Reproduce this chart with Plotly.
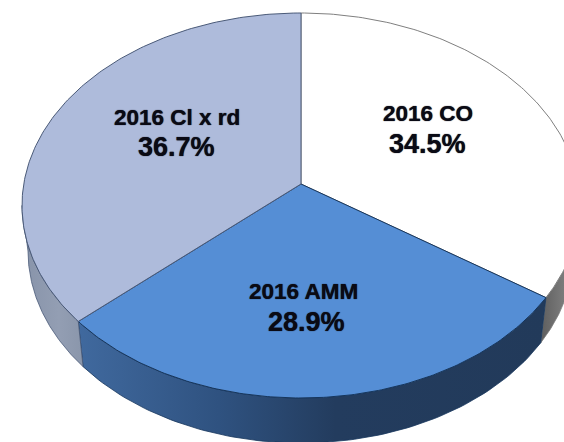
import numpy as np
import plotly.graph_objects as go

# Data
categories = ["2016 CO", "2016 AMM", "2016 Cl x rd"]
shares = [34.5, 28.9, 36.7]

# Styles
top_colors = ["#FFFFFF", "#558ED5", "#AEBBDB"]
edge_colors = ["#7F7F7F", "#16365D", "#4A5A78"]
wall_scales = [
    [[0, "#5E5E5E"], [0.5, "#777777"], [1, "#8C8C8C"]],
    [[0, "#40699E"], [0.3, "#2F5280"], [0.55, "#233C5E"], [1, "#223A5A"]],
    [[0, "#8793A9"], [0.6, "#939EB3"], [1, "#8A96AB"]],
]
# Canvas in pixels, ellipse geometry of the tilted disc
W, H = 564, 442
CX, CY, RX, RY = 301, 205.5, 279, 192.5
BX, BY, BRX, BRY = 301, 251, 273, 192
APEX_Y = 184
K = np.tan((np.pi / 2 - np.arcsin((CY - APEX_Y) / RY)) / 2)


def persp(t):
    """Project a true pie angle (clockwise from top) on to the ellipse angle."""
    return 2 * np.arctan2(K * np.sin(t / 2), np.cos(t / 2))


def arc(t0, t1, cx, cy, rx, ry, n=90):
    a = np.linspace(t0, t1, n)
    return cx + rx * np.sin(a), cy - ry * np.cos(a)


total = sum(shares)
edges = np.cumsum([0] + shares) / total * 2 * np.pi
angles = persp(edges)
angles[-1] = 2 * np.pi

fig = go.Figure()

# Side walls (only the part of each slice that faces the viewer)
for i in range(3):
    t0 = max(angles[i], np.pi * 0.5)
    t1 = min(angles[i + 1], np.pi * 1.5)
    if t1 <= t0:
        continue
    x1, y1 = arc(t0, t1, CX, CY, RX, RY)
    x2, y2 = arc(t1, t0, BX, BY, BRX, BRY)
    fig.add_trace(go.Scatter(
        x=np.r_[x1, x2, x1[0]], y=np.r_[y1, y2, y1[0]],
        mode="lines", line=dict(color=edge_colors[i], width=0.8),
        fill="toself",
        fillgradient=dict(type="horizontal", colorscale=wall_scales[i]),
        hoverinfo="skip", showlegend=False,
    ))

# Top faces
for i in range(3):
    x, y = arc(angles[i], angles[i + 1], CX, CY, RX, RY, 160)
    fig.add_trace(go.Scatter(
        x=np.r_[CX, x, CX], y=np.r_[APEX_Y, y, APEX_Y],
        mode="lines", line=dict(color=edge_colors[i], width=1),
        fill="toself", fillcolor=top_colors[i],
        name=categories[i], hoverinfo="name", showlegend=False,
    ))

# Labels
name_pos = [(428, 113, 22.5), (303, 291, 22.5), (177, 117, 22.5)]
pct_pos = [(427, 144), (306, 322), (176, 147)]
heavy = "0 0 1px #0A0A14"
for i in range(3):
    x, y, size = name_pos[i]
    fig.add_annotation(x=x, y=y, text=f"<b>{categories[i]}</b>", showarrow=False,
                       font=dict(family="Liberation Sans", size=size, color="#0A0A14", shadow=heavy))
    x, y = pct_pos[i]
    fig.add_annotation(x=x, y=y, text=f"<b>{shares[i]:.1f}%</b>", showarrow=False,
                       font=dict(family="Liberation Sans", size=27, color="#0A0A14", shadow=heavy))

fig.update_layout(
    width=W, height=H, margin=dict(l=0, r=0, t=0, b=0),
    paper_bgcolor="white", plot_bgcolor="white", showlegend=False,
    xaxis=dict(range=[0, W], visible=False, fixedrange=True),
    yaxis=dict(range=[H, 0], visible=False, fixedrange=True),
)
fig.write_html("out.html", config={"displayModeBar": False},
               post_script="document.body.style.margin='0';")
